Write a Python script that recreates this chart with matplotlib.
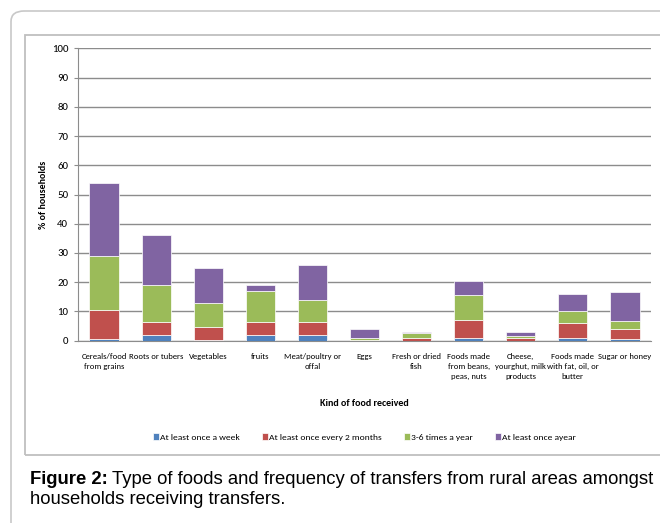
import matplotlib.pyplot as plt
from matplotlib.patches import FancyBboxPatch, Rectangle
import numpy as np

# Data
foods = ["Cereals/food\nfrom grains", "Roots or tubers", "Vegetables", "fruits",
         "Meat/poultry or\noffal", "Eggs", "Fresh or dried\nfish",
         "Foods made\nfrom beans,\npeas, nuts", "Cheese,\nyourghut, milk\nproducts",
         "Foods made\nwith fat, oil, or\nbutter", "Sugar or honey"]
weekly = [0.7, 2, 0.3, 2, 2, 0, 0, 1, 0, 1, 0.5]
two_months = [9.8, 4.5, 4.5, 4.5, 4.5, 0.3, 0.9, 6.2, 0.9, 5, 3.4]
three_six = [18.5, 12.5, 8.2, 10.5, 7.5, 0.7, 1.7, 8.3, 0.8, 4, 2.8]
yearly = [25, 17, 12, 2, 12, 3, 0.5, 5, 1.3, 6, 10]
series_names = ["At least once a week", "At least once every 2 months",
                "3-6 times a year", "At least once ayear"]
colors = ["#4F81BD", "#C0504D", "#9BBB59", "#8064A2"]

W, H = 660, 523
fig = plt.figure(figsize=(W/100, H/100), dpi=100)
font = ['Carlito', 'DejaVu Sans']

# pixel box (from top-left) -> figure fractions
def px(x0, y0, x1, y1):
    return x0/W, 1-y1/H, (x1-x0)/W, (y1-y0)/H

bx, by, bw, bh = px(11, 11, 700, 560)
fig.patches.append(FancyBboxPatch((bx, by), bw, bh, boxstyle="round,pad=0,rounding_size=0.02",
                                  transform=fig.transFigure, fill=False,
                                  edgecolor="#c8c8c8", linewidth=1.2))
bx, by, bw, bh = px(25, 35, 700, 455)
fig.patches.append(Rectangle((bx, by), bw, bh, transform=fig.transFigure, fill=False,
                             edgecolor="#bfbfbf", linewidth=1.3))

ax = fig.add_axes(px(78, 48.3, 651, 340.7))
x = np.arange(len(foods))
bottom = np.zeros(len(foods))
for vals, name, col in zip([weekly, two_months, three_six, yearly], series_names, colors):
    ax.bar(x, vals, 0.56, bottom=bottom, color=col, label=name,
           edgecolor="white", linewidth=0.5, zorder=3)
    bottom += np.array(vals)

ax.set_ylim(0, 100)
ax.set_xlim(-0.5, len(foods)-0.5)
ax.set_yticks(range(0, 101, 10))
ax.yaxis.grid(True, color="#8c8c8c", linewidth=1, zorder=0)
ax.set_xticks(x)
ax.set_xticklabels(foods, fontsize=6.2, family=font, linespacing=1.45)
for lab in ax.get_yticklabels():
    lab.set_family(font)
ax.tick_params(axis='y', labelsize=7.8, length=3, color="#8c8c8c", pad=4)
ax.tick_params(axis='x', length=0, pad=9)
for s in ["top", "right"]:
    ax.spines[s].set_visible(False)
for s in ["left", "bottom"]:
    ax.spines[s].set_color("#8c8c8c")
ax.set_ylabel("% of households", fontsize=7.2, fontweight="bold", family=font, va="center")
ax.yaxis.set_label_coords((43-78)/573, 0.5)
ax.set_xlabel("Kind of food received", fontsize=7.2, fontweight="bold", family=font, va="center")
ax.xaxis.set_label_coords(0.5, (340.7-404)/292.4)

ax.legend(loc="center", bbox_to_anchor=(0.5, (340.7-437)/292.4), ncol=4, frameon=False,
          prop={'family': font, 'size': 6.8}, handlelength=0.7, handleheight=0.7,
          handletextpad=0.1, columnspacing=2.3)

# caption
cap = 13.3
t1 = fig.text(30/W, 1-479/H, "Figure 2:", fontsize=cap, family="Liberation Sans",
              fontweight="bold", va="center", ha="left")
fig.canvas.draw()
bb = t1.get_window_extent()
fig.text((bb.x1 + 4)/W, 1-479/H, "Type of foods and frequency of transfers from rural areas amongst",
         fontsize=cap, family="Liberation Sans", va="center", ha="left")
fig.text(30/W, 1-499/H, "households receiving transfers.", fontsize=cap,
         family="Liberation Sans", va="center", ha="left")

fig.savefig("out.png", dpi=100)
